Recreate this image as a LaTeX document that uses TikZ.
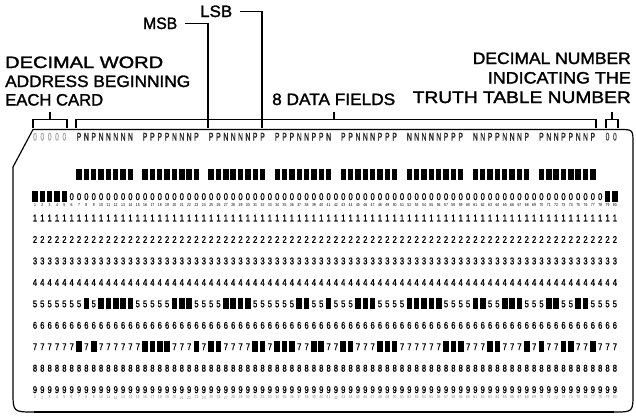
\documentclass[tikz,border=0pt]{standalone}
\usepackage{graphicx}
\usepackage{fontspec}
\setmainfont{Liberation Sans}
\newfontfamily\labfont[FakeBold=1.6]{Liberation Sans}
\newfontfamily\numfont[FakeStretch=0.78,FakeBold=1.2]{Liberation Sans}
\newfontfamily\tinyfont[FakeStretch=0.8]{Liberation Sans}
\newfontfamily\prfont[FakeStretch=0.62,FakeBold=1]{Liberation Sans}
\newcommand\digfont{\numfont\fontsize{9.8}{10}\selectfont}
\newcommand\colnfont{\tinyfont\fontsize{4.3}{5}\selectfont}
\newcommand\printfont{\prfont\fontsize{11}{11}\selectfont}
\def\Nlist{8,10,11,12,13,14,20,21,22,27,28,29,30,37,38,41,45,46,47,52,53,54,55,56,61,62,65,66,67,71,72,75,76}
\def\Plist{7,9,16,17,18,19,23,25,26,31,32,34,35,36,39,40,43,44,48,49,50,57,58,59,63,64,68,70,73,74,77}
\def\Zlist{1,2,3,4,5,79,80}
\tikzset{
  lab/.style={inner sep=0pt, font=\labfont},
  brk/.style={line width=1.1pt},
  cardline/.style={line width=1.2pt},
  dig/.style={inner sep=0pt, anchor=base, font=\digfont},
  coln/.style={inner sep=0pt, font=\colnfont},
  prt/.style={inner sep=0pt, anchor=base, font=\printfont},
  punch/.style={fill=black}
}
\begin{document}
\begin{tikzpicture}[x=1pt,y=-1pt]
\useasboundingbox (0,0) rectangle (636,415);
% labels
\node[lab, anchor=base west] (dw)  at (5,68)    {\resizebox{158pt}{11.5pt}{DECIMAL WORD}};
\node[lab, anchor=base west] (abg) at (5,87)    {\resizebox{185pt}{11.5pt}{ADDRESS BEGINNING}};
\node[lab, anchor=base west] (ec)  at (5,105.5) {\resizebox{98pt}{11.5pt}{EACH CARD}};
\node[lab, anchor=base west] (msb) at (143,29)  {\resizebox{34pt}{11.5pt}{MSB}};
\node[lab, anchor=base west] (lsb) at (200,17)  {\resizebox{32pt}{11.5pt}{LSB}};
\node[lab, anchor=base west] (fld) at (272,105) {\resizebox{123pt}{11.5pt}{8 DATA FIELDS}};
\node[lab, anchor=base east] (dn)  at (631,64)  {\resizebox{158pt}{11.5pt}{DECIMAL NUMBER}};
\node[lab, anchor=base east] (itt) at (631,83.5){\resizebox{143pt}{11.5pt}{INDICATING THE}};
\node[lab, anchor=base east] (ttn) at (631,103) {\resizebox{218pt}{11.5pt}{TRUTH TABLE NUMBER}};
% brackets
\draw[brk] (33,128) -- (33,119.5) -- (67,119.5) -- (67,128);
\draw[brk] (50,119.5) -- (50,112);
\draw[brk] (76,128) -- (76,119.5) -- (596,119.5) -- (596,128);
\draw[brk] (334,119.5) -- (334,112);
\draw[brk] (606,128) -- (606,119.5) -- (618,119.5) -- (618,128);
\draw[brk] (612,119.5) -- (612,112);
\draw[brk] ([xshift=8pt]msb.east) -| (208,128);
\draw[brk] ([xshift=8pt]lsb.east) -| (262,128);
% card outline
\draw[cardline] (13,167) -- (33,129.5) -- (619,129.5) .. controls (633,129.5) .. (633,143.5)
  -- (633,393) .. controls (633,412) .. (614,412) -- (34,412) .. controls (13,412) .. (13,391) -- cycle;
\draw[line width=1.8pt] (34,412) -- (614,412);
% printed characters at top
\foreach \c in {1,...,5} \node[prt, text=black!35] (t\c) at ({35+(\c-1)*7.34},140.5) {0};
\foreach \c in {79,80} \node[prt, text=black!70] (t\c) at ({35+(\c-1)*7.34},140.5) {0};
\foreach \c in \Plist \node[prt, text=black!85] (t\c) at ({35+(\c-1)*7.34},140.5) {P};
\foreach \c in \Nlist \node[prt, text=black!85] (t\c) at ({35+(\c-1)*7.34},140.5) {N};
% printed digits
\foreach \r in {0,...,9}{
  \foreach \c in {1,...,80}{
    \node[dig] (d\r-\c) at ({35+(\c-1)*7.34},{200+21.45*\r}) {\r};
  }
}
% column numbers
\foreach \c in {1,...,80}{
  \node[coln] (n\c) at ({35+(\c-1)*7.34},205) {\c};
  \node[coln, text=black!45] (m\c) at ({35+(\c-1)*7.34},397.5) {\c};
}
% punches
\foreach \s in {7,16,25,34,43,52,61,70}{
  \foreach \k in {0,...,7}{
    \fill[punch] ({35+(\s+\k-1)*7.34-2.7},168.5) rectangle +(5.4,11);
  }
}
\foreach \c in \Zlist \fill[punch] ({35+(\c-1)*7.34-2.8},191) rectangle +(5.6,11);
\foreach \c in \Nlist \fill[punch] ({35+(\c-1)*7.34-2.8},{196.5+21.45*5-5.5}) rectangle +(5.6,11);
\foreach \c in \Plist \fill[punch] ({35+(\c-1)*7.34-2.8},{196.5+21.45*7-5.5}) rectangle +(5.6,11);
\end{tikzpicture}
\end{document}
